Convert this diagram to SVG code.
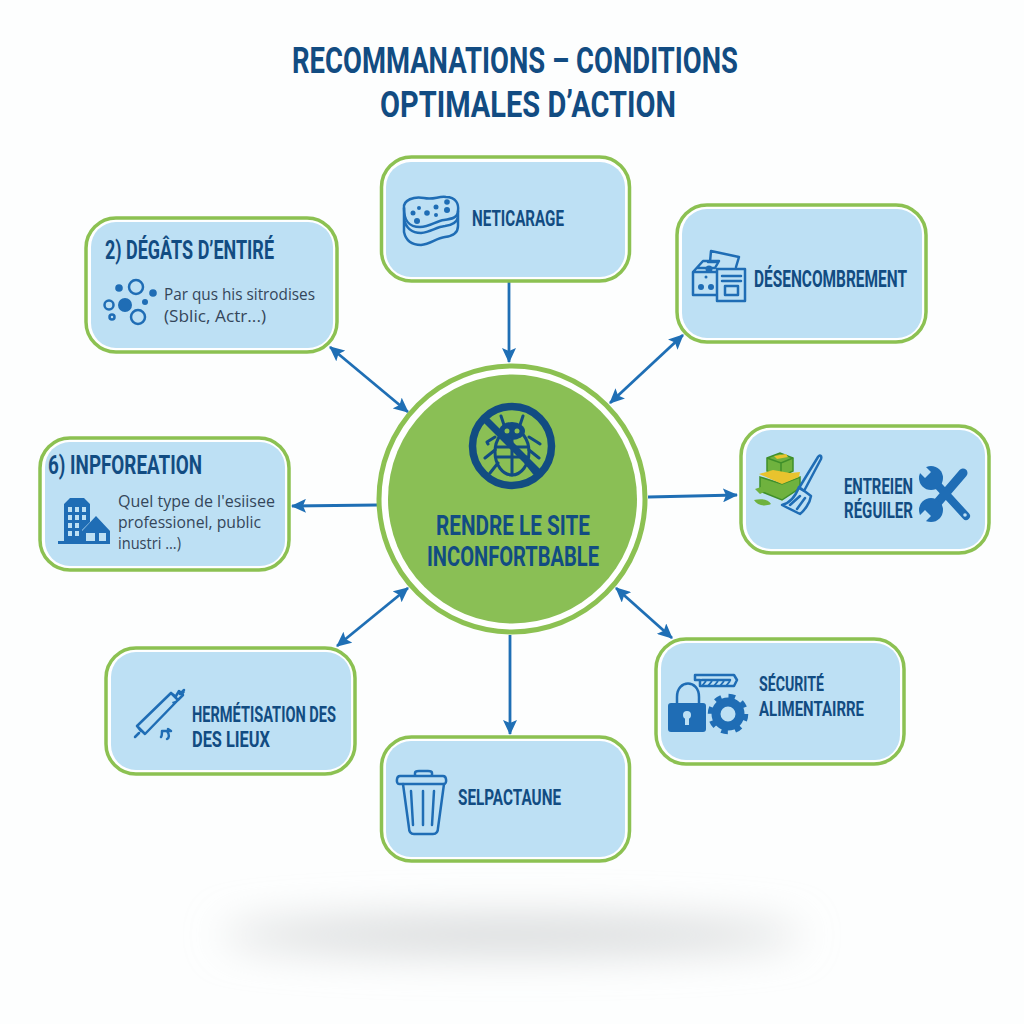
<svg xmlns="http://www.w3.org/2000/svg" width="1024" height="1024" viewBox="0 0 1024 1024">
<style>
.o{fill:#fff;stroke:#8cc152;stroke-width:3.5}
.i{fill:#bde0f4}
.t{font-family:Roboto,"Liberation Sans",sans-serif;font-weight:700;fill:#124c82}
.b{font-family:"Open Sans","Noto Sans",sans-serif;fill:#34465a;font-size:17px}
.c{fill:none;stroke:#1f6fb5;stroke-width:2.800}
.l{fill:none;stroke:#1f6db5;stroke-width:2.500;stroke-linecap:round;stroke-linejoin:round}
.s{fill:#1f6db5}
.d{fill:none;stroke:#124c82;stroke-linecap:round;stroke-linejoin:round}
</style>
<defs>
<marker id="a" viewBox="0 0 15 14" refX="14" refY="7" markerWidth="15" markerHeight="14" markerUnits="userSpaceOnUse" orient="auto-start-reverse"><path d="M0 0L15 7L0 14L3 7Z" fill="#1f6fb5"/></marker>
<filter id="blur" x="-30%" y="-200%" width="160%" height="500%"><feGaussianBlur stdDeviation="20"/></filter>
</defs>
<rect width="1024" height="1024" fill="#fdfefe"/>
<ellipse cx="512" cy="935" rx="290" ry="18" fill="#d6d8d9" filter="url(#blur)"/>
<text class="t" x="292" y="73" font-size="36" textLength="446" lengthAdjust="spacingAndGlyphs">RECOMMANATIONS – CONDITIONS</text>
<text class="t" x="380" y="117" font-size="36" textLength="296" lengthAdjust="spacingAndGlyphs">OPTIMALES D’ACTION</text>

<g id="connectors">
<path class="c" d="M509 282V362" marker-end="url(#a)"/>
<path class="c" d="M510 635V734" marker-end="url(#a)"/>
<path class="c" d="M378 505L292 506" marker-end="url(#a)"/>
<path class="c" d="M648 497L737 495" marker-end="url(#a)"/>
<path class="c" d="M330 347L408 412" marker-start="url(#a)" marker-end="url(#a)"/>
<path class="c" d="M683 335L610 403" marker-start="url(#a)" marker-end="url(#a)"/>
<path class="c" d="M408 588L337 646" marker-start="url(#a)" marker-end="url(#a)"/>
<path class="c" d="M616 588L672 638" marker-start="url(#a)" marker-end="url(#a)"/>
</g>

<g id="center">
<circle cx="512" cy="499" r="133" fill="#fff" stroke="#8cc152" stroke-width="5"/>
<circle cx="512.500" cy="499" r="124.500" fill="#8abf55"/>
<g class="d" stroke-width="3">
<ellipse cx="512" cy="452" rx="17" ry="23"/>
<path d="M496 447H528M497 457H527M512 440V475"/>
<path d="M504 425L501 416M520 425L523 416M495 437L487 442L488 444M529 437L537 442L540 444M495 450L485 458M529 450L539 458M498 463L490 473M526 463L534 473"/>
</g>
<ellipse cx="512" cy="431" rx="13" ry="9" fill="#124c82"/>
<circle cx="507" cy="431" r="2.500" fill="#8abf55"/><circle cx="517" cy="431" r="2.500" fill="#8abf55"/>
<circle cx="512" cy="446" r="39.500" fill="none" stroke="#124c82" stroke-width="7.500"/>
<path d="M485 419L539 473" stroke="#124c82" stroke-width="7"/>
<text class="t" x="436" y="535" font-size="28" textLength="154" lengthAdjust="spacingAndGlyphs">RENDRE LE SITE</text>
<text class="t" x="427" y="566" font-size="28" textLength="172" lengthAdjust="spacingAndGlyphs">INCONFORTBABLE</text>
</g>

<g id="n-nettoyage">
<rect class="o" x="381.500" y="157" width="248" height="124" rx="30"/>
<rect class="i" x="386" y="162" width="239" height="115" rx="25"/>
<path class="l" d="M404 208C403 200 414 196 424 198C434 200 438 196 446 197C456 197 459 204 458 211C458 218 451 219 444 220C436 221 430 227 420 227C408 227 404 220 404 208Z"/>
<path class="l" d="M404 208V232C406 241 412 245 421 245C431 244 436 238 445 237C453 236 458 233 458 226V211M404 219C406 228 412 233 421 233C431 232 436 227 445 226C452 225 457 223 458 217"/>
<g class="s"><circle cx="413" cy="213" r="2.500"/><circle cx="419" cy="208" r="2"/><circle cx="427" cy="213" r="2.800"/><circle cx="436" cy="207" r="2.500"/><circle cx="447" cy="202" r="2.800"/><circle cx="447" cy="210" r="3"/><circle cx="417" cy="221" r="3"/><circle cx="436" cy="215" r="2"/></g>
<text class="t" x="472" y="225.500" font-size="22" textLength="92" lengthAdjust="spacingAndGlyphs">NETICARAGE</text>
</g>

<g id="n-degats">
<rect class="o" x="86" y="218" width="251" height="134" rx="30"/>
<rect class="i" x="91" y="222" width="242" height="126" rx="25"/>
<text class="t" x="105" y="259" font-size="25" textLength="169" lengthAdjust="spacingAndGlyphs">2) DÉGÂTS D’ENTIRÉ</text>
<g class="s"><circle cx="125" cy="305" r="7"/><circle cx="119" cy="288" r="3.800"/><circle cx="153" cy="293" r="3.800"/><circle cx="145" cy="302" r="3"/></g>
<g class="l"><circle cx="136" cy="287" r="7"/><circle cx="109" cy="305" r="4.500"/><circle cx="138" cy="317" r="7"/><circle cx="112" cy="317" r="2.500"/></g>
<text class="b" x="164" y="300" textLength="151" lengthAdjust="spacingAndGlyphs">Par qus his sitrodises</text>
<text class="b" x="164" y="322" textLength="102" lengthAdjust="spacingAndGlyphs">(Sblic, Actr...)</text>
</g>

<g id="n-information">
<rect class="o" x="40" y="438" width="249" height="132" rx="30"/>
<rect class="i" x="45" y="442" width="240" height="124" rx="25"/>
<text class="t" x="48" y="474" font-size="25" textLength="154" lengthAdjust="spacingAndGlyphs">6) INPFOREATION</text>
<path class="s" fill-rule="evenodd" d="M64 504L70 498H84L90 504V522L82 530V541H64ZM68 507V512H72V507ZM75 507V512H79V507ZM82 507V512H86V507ZM68 515V520H72V515ZM75 515V520H79V515ZM82 515V520H86V515ZM68 523V528H72V523ZM75 523V528H79V523ZM68 531V536H72V531ZM75 531V536H79V531Z"/>
<path class="s" fill-rule="evenodd" d="M82 531L96 516L110 531V541H82ZM86 533V541H95V533ZM99 533V541H106V533Z"/>
<rect class="s" x="58" y="541" width="52" height="3"/>
<text class="b" x="118" y="507" textLength="157" lengthAdjust="spacingAndGlyphs">Quel type de l'esiisee</text>
<text class="b" x="118" y="528" textLength="143" lengthAdjust="spacingAndGlyphs">professionel, public</text>
<text class="b" x="118" y="549" textLength="63" lengthAdjust="spacingAndGlyphs">inustri ...)</text>
</g>

<g id="n-desencombrement">
<rect class="o" x="677" y="205" width="249" height="137" rx="30"/>
<rect class="i" x="682" y="209" width="240" height="129" rx="25"/>
<g class="l">
<path d="M710 262L711 251L739 257L736 267M708 262H716"/>
<path d="M693 295V272L703 261H719L715 268H697M693 295H716M693 272H716"/>
<rect x="717" y="269" width="28" height="32"/>
<path d="M722 276H741M722 281H741"/>
<rect x="725" y="286" width="13" height="9"/>
</g>
<g class="s"><circle cx="709" cy="269" r="3.500"/><circle cx="701" cy="287" r="3"/><circle cx="711" cy="287" r="3"/><circle cx="706" cy="277" r="1.500"/></g>
<text class="t" x="754" y="287" font-size="23" textLength="153" lengthAdjust="spacingAndGlyphs">DÉSENCOMBREMENT</text>
</g>

<g id="n-entretien">
<rect class="o" x="741" y="426" width="248" height="127" rx="30"/>
<rect class="i" x="746" y="430" width="239" height="119" rx="25"/>
<path d="M767 458L780 453L793 458V471L781 477L767 471Z" fill="#6fb23e" stroke="#3f8f2a" stroke-width="1.500"/>
<path d="M767 458L781 463L793 458M781 463V477" fill="none" stroke="#3f8f2a" stroke-width="1.500"/>
<path d="M774 456L786 454L788 457L777 459Z" fill="#e8c32e"/>
<path d="M760 477V491L782 500L800 488V477L782 484Z" fill="#6fb23e" stroke="#3f8f2a" stroke-width="1.500"/>
<path d="M759 474L773 470L790 473L800 472L799 477L782 484Z" fill="#e8c32e"/>
<path d="M755 489L760 494L766 491L761 487ZM754 500C762 498 769 500 771 504C764 507 757 505 754 500Z" fill="#6fb23e"/>
<path class="l" d="M818 457C820 454 822 456 821 459L804 491L799 488ZM799 487L811 496C810 503 804 511 800 514L782 505C790 503 796 495 799 487ZM790 505L800 496M797 509L805 498" stroke-width="2"/>
<text class="t" x="844" y="494" font-size="22" textLength="69" lengthAdjust="spacingAndGlyphs">ENTREIEN</text>
<text class="t" x="844" y="518" font-size="22" textLength="69" lengthAdjust="spacingAndGlyphs">RÉGUILER</text>
<g fill="none" stroke="#1f6db5" stroke-linecap="round">
<path d="M933 480L966 516" stroke-width="8"/>
<path d="M963 473L933 508" stroke-width="9"/>
</g>
<circle class="s" cx="931" cy="478" r="12"/>
<circle class="s" cx="931" cy="510" r="12"/>
<path class="i" d="M931 472L925 478L911 464L917 458ZM931 516L925 510L911 524L917 530Z"/>
<circle cx="965" cy="515" r="1.800" fill="#bde0f4"/>
</g>

<g id="n-securite">
<rect class="o" x="656" y="639" width="248" height="125" rx="30"/>
<rect class="i" x="661" y="643" width="239" height="117" rx="25"/>
<path class="l" d="M695 675H734L737 680L734 686H700V680H695ZM702 680H730" stroke-width="2"/>
<path d="M702 686L706 681M708 686L712 681M714 686L718 681M720 686L724 681M726 686L730 681" stroke="#1f6db5" stroke-width="2"/>
<path class="l" d="M677 707V697C677 679 699 679 699 697V707" stroke-width="5"/>
<rect class="s" x="668" y="703" width="38" height="29" rx="3"/>
<circle cx="687" cy="715" r="4" fill="#bde0f4"/><rect x="685" y="716" width="4" height="9" fill="#bde0f4"/>
<circle cx="728" cy="714" r="12" fill="none" stroke="#1f6db5" stroke-width="9"/>
<circle cx="728" cy="714" r="17.500" fill="none" stroke="#1f6db5" stroke-width="5.500" stroke-dasharray="6.500 7.240"/>
<text class="t" x="759" y="691" font-size="21" textLength="65" lengthAdjust="spacingAndGlyphs">SÉCURITÉ</text>
<text class="t" x="759" y="716" font-size="21" textLength="105" lengthAdjust="spacingAndGlyphs">ALIMENTAIRRE</text>
</g>

<g id="n-hermetisation">
<rect class="o" x="106" y="648" width="249" height="126" rx="30"/>
<rect class="i" x="111" y="652" width="240" height="118" rx="25"/>
<path class="l" d="M137 726L171 693L178 700L145 734ZM171 693L175 696M137 726L141 731M176 696L179 691L183 695L178 700M180 694L184 690M139 733L135 737" stroke-width="2.200"/>
<path class="s" d="M178 700L173 704L172 702ZM179 692L184 691L185 692L182 696Z"/>
<path class="l" d="M162 731H171L168 729M167 731C170 735 169 738 167 739M162 731C162 734 162 736 161 737" stroke-width="1.800"/>
<text class="t" x="192" y="721.500" font-size="22" textLength="144" lengthAdjust="spacingAndGlyphs">HERMÉTISATION DES</text>
<text class="t" x="192" y="746.500" font-size="22" textLength="78" lengthAdjust="spacingAndGlyphs">DES LIEUX</text>
</g>

<g id="n-selpactaune">
<rect class="o" x="381.500" y="737" width="248" height="124" rx="30"/>
<rect class="i" x="386" y="741" width="239" height="116" rx="25"/>
<path class="l" d="M403 784L409 828C409 832 411 834 414 834H433C436 834 438 832 438 828L444 784"/>
<path class="l" d="M399 784C396 784 396 776 400 776H443C447 776 447 784 444 784ZM415 776V773C415 771 417 771 419 771H428C430 771 432 771 432 773V776"/>
<path class="l" d="M411 791L413 825M423 791V825M434 791L432 825"/>
<text class="t" x="458" y="804.500" font-size="22" textLength="103" lengthAdjust="spacingAndGlyphs">SELPACTAUNE</text>
</g>
</svg>
